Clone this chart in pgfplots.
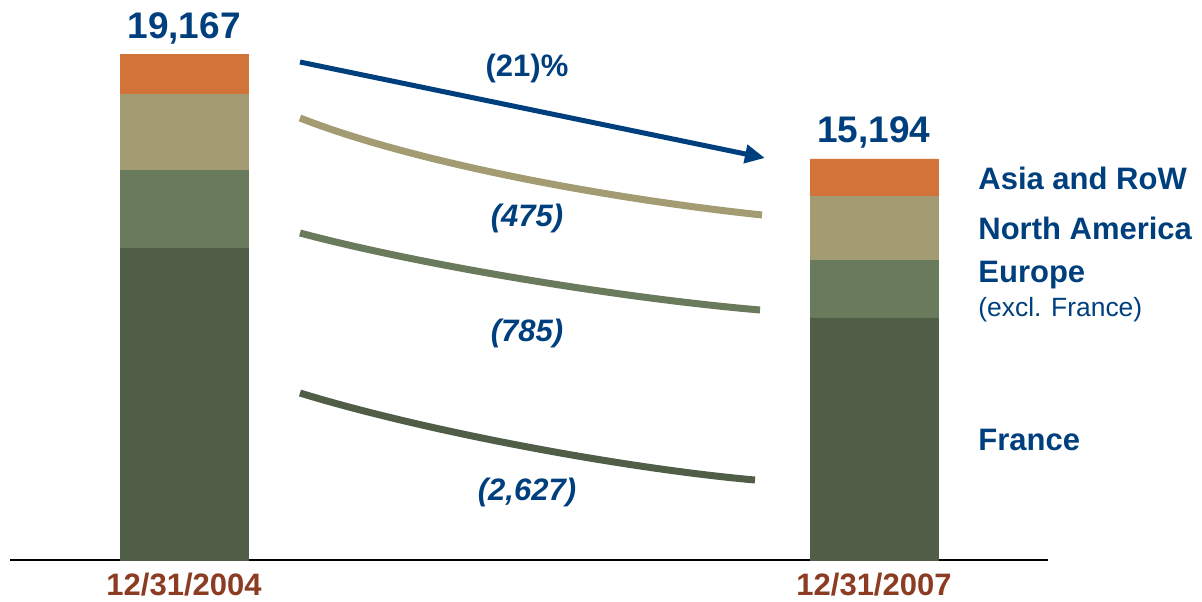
\documentclass[border=0pt]{standalone}
\usepackage{pgfplots}
\pgfplotsset{compat=1.18}
\usepackage{fontspec}
\setmainfont{Liberation Sans}
\usetikzlibrary{arrows.meta}
\definecolor{navy}{RGB}{0,63,125}
\definecolor{datebrown}{RGB}{140,60,35}
\definecolor{asia}{RGB}{210,115,58}
\definecolor{nam}{RGB}{163,155,114}
\definecolor{eur}{RGB}{106,122,92}
\definecolor{fra}{RGB}{80,94,72}
\definecolor{baseline}{RGB}{110,122,104}
\begin{document}
\begin{tikzpicture}
\useasboundingbox (-5pt,-20.5pt) rectangle (596pt,280pt);
\begin{axis}[
  at={(0,0)}, anchor=south west,
  scale only axis, width=519pt, height=280pt,
  xmin=-0.2522, xmax=1.2522, ymin=0, ymax=21213,
  ybar stacked, bar width=64pt,
  axis x line=bottom, axis y line=none,
  x axis line style={baseline, line width=0.9pt, -},
  xtick={0,1}, xticklabels={12/31/2004,12/31/2007},
  major tick length=0pt,
  xticklabel style={font=\fontsize{15.5}{18}\selectfont\bfseries, text=datebrown, yshift=-3pt},
  ytick=\empty,
  clip=false,
]
\addplot[fill=fra, draw=fra, line width=0.2pt] coordinates {(0,11800) (1,9173)};
\addplot[fill=eur, draw=eur, line width=0.2pt] coordinates {(0,2950) (1,2165)};
\addplot[fill=nam, draw=nam, line width=0.2pt] coordinates {(0,2900) (1,2425)};
\addplot[fill=asia, draw=asia, line width=0.2pt] coordinates {(0,1517) (1,1431)};

% totals
\node[font=\fontsize{18.5}{22}\selectfont\bfseries, text=navy] at (axis cs:0,20150) {19,167};
\node[font=\fontsize{18.5}{22}\selectfont\bfseries, text=navy] at (axis cs:1,16180) {15,194};

% arrow
\draw[navy, line width=2.5pt, -{Triangle[length=10pt,width=9pt]}] (axis cs:0.1681,18864) -- (axis cs:0.8420,15228);
\node[font=\fontsize{15.5}{18}\selectfont\bfseries, text=navy] at (axis cs:0.4971,18637) {(21)\%};

% curves
\draw[nam, line width=3.5pt] (axis cs:0.1681,16743) .. controls (axis cs:0.3420,14963) and (axis cs:0.6319,13637) .. (axis cs:0.8377,13069);
\draw[eur, line width=3.5pt] (axis cs:0.1681,12387) .. controls (axis cs:0.3420,11175) and (axis cs:0.6319,9925) .. (axis cs:0.8348,9470);
\draw[fra, line width=3.5pt] (axis cs:0.1681,6326) .. controls (axis cs:0.3420,4924) and (axis cs:0.6319,3485) .. (axis cs:0.8275,3030);

% change labels
\node[font=\fontsize{15.5}{18}\selectfont\bfseries\itshape, text=navy] at (axis cs:0.4971,12955) {(475)};
\node[font=\fontsize{15.5}{18}\selectfont\bfseries\itshape, text=navy] at (axis cs:0.4971,8599) {(785)};
\node[font=\fontsize{15.5}{18}\selectfont\bfseries\itshape, text=navy] at (axis cs:0.4971,2576) {(2,627)};

% right labels
\node[anchor=west, inner sep=0pt, font=\fontsize{15.5}{18}\selectfont\bfseries, text=navy] at (axis cs:1.1507,14470) {Asia and RoW};
\node[anchor=west, inner sep=0pt, font=\fontsize{15.5}{18}\selectfont\bfseries, text=navy] at (axis cs:1.1507,12576) {North America};
\node[anchor=west, inner sep=0pt, font=\fontsize{15.5}{18}\selectfont\bfseries, text=navy] at (axis cs:1.1507,10796) {Europe};
\node[anchor=west, inner sep=0pt, font=\fontsize{13.2}{16}\selectfont, text=navy] at (axis cs:1.1507,9470) {(excl. France)};
\node[anchor=west, inner sep=0pt, font=\fontsize{15.5}{18}\selectfont\bfseries, text=navy] at (axis cs:1.1507,4546) {France};
\end{axis}
\end{tikzpicture}
\end{document}
